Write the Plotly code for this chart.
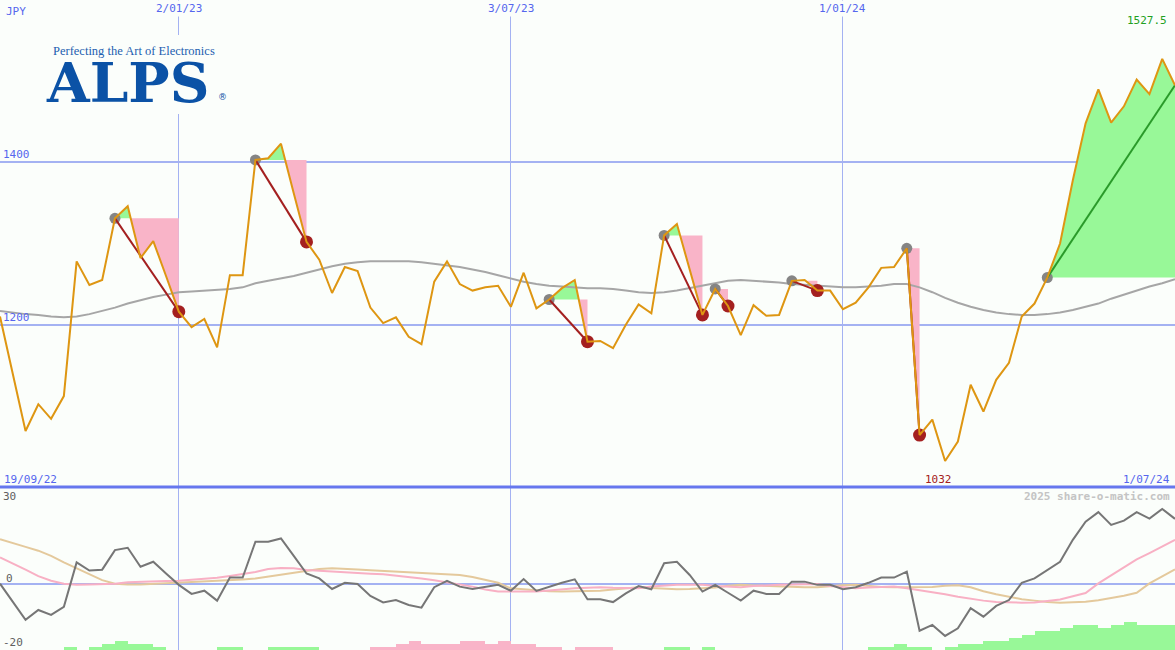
import numpy as np
import pandas as pd
import plotly.graph_objects as go

# ---------------- data ----------------
dates = pd.date_range("2022-09-26", periods=93, freq="7D")

price = [1210, 1140, 1069, 1102, 1084, 1112, 1278, 1249, 1255, 1331,
         1346, 1282, 1303, 1260, 1216, 1197, 1207, 1172, 1261, 1261,
         1403, 1405, 1423, 1362, 1302, 1280, 1239, 1271, 1266, 1221,
         1202, 1209, 1185, 1176, 1253, 1278, 1250, 1242, 1246, 1248,
         1222, 1264, 1220, 1231, 1245, 1255, 1179, 1180, 1171, 1200,
         1225, 1214, 1310, 1324, 1268, 1212, 1244, 1223, 1187, 1224,
         1211, 1212, 1254, 1255, 1242, 1242, 1219, 1227, 1246, 1270,
         1271, 1294, 1064, 1083, 1032, 1056, 1126, 1093, 1132, 1153,
         1210, 1226, 1258, 1300, 1378, 1448, 1490, 1449, 1469, 1502,
         1484, 1527.5, 1495]

ma = [1217, 1215, 1213, 1212, 1210, 1209, 1210, 1213, 1217, 1221,
      1226, 1230, 1234, 1237, 1240, 1241, 1242, 1243, 1244, 1246,
      1251, 1254, 1257, 1260, 1264, 1268, 1272, 1275, 1277, 1278,
      1278, 1278, 1278, 1277, 1275, 1273, 1271, 1268, 1265, 1261,
      1257, 1253, 1250, 1248, 1247, 1246, 1245, 1245, 1244, 1242,
      1240, 1239, 1240, 1242, 1245, 1248, 1251, 1254, 1255, 1254,
      1253, 1252, 1250, 1249, 1248, 1247, 1246, 1246, 1247, 1248,
      1250, 1250, 1246, 1240, 1233, 1227, 1222, 1218, 1215, 1213,
      1212, 1212, 1213, 1215, 1218, 1222, 1226, 1232, 1237, 1242,
      1247, 1251, 1256]

osc = [0.0, -6.0, -12.4, -9.0, -10.7, -7.9, 7.3, 4.5, 4.8, 11.5,
       12.3, 5.8, 7.5, 3.5, -0.4, -3.5, -2.4, -5.8, 2.1, 2.1,
       14.4, 14.4, 15.5, 9.5, 3.5, 1.8, -1.8, 0.3, -0.1, -4.2,
       -6.4, -5.6, -7.3, -8.2, -1.2, 1.0, -1.0, -1.8, -1.0, -0.4,
       -2.4, 1.6, -2.5, -1.0, 0.3, 1.5, -5.3, -5.3, -6.3, -3.3,
       -0.8, -1.9, 7.0, 7.5, 3.0, -2.7, -0.4, -3.1, -5.8, -2.4,
       -3.5, -3.5, 0.7, 0.7, -0.4, -0.4, -1.9, -1.2, 0.3, 2.1,
       2.1, 4.1, -16.1, -14.1, -17.9, -15.3, -8.4, -11.3, -7.6, -5.6,
       0.3, 1.8, 4.7, 7.5, 15.0, 21.2, 24.5, 20.1, 21.6, 24.5,
       22.3, 25.6, 22.2]

sig_pink = [9.0, 7.0, 4.8, 2.6, 1.0, 0.0, -0.4, -0.3, -0.2, 0.0,
            0.5, 0.7, 0.8, 0.9, 1.0, 1.3, 1.5, 2.0, 2.6, 3.3,
            4.0, 5.0, 5.4, 5.3, 4.7, 4.4, 4.1, 3.8, 3.6, 3.4,
            3.2, 2.8, 2.3, 1.8, 1.2, 0.5, -0.4, -1.0, -2.0, -2.7,
            -2.7, -2.7, -2.7, -2.3, -1.9, -1.6, -1.4, -1.2, -1.4, -1.5,
            -1.6, -1.0, -0.6, -0.4, -0.4, -0.4, -0.8, -1.1, -1.2, -0.8,
            -0.5, -0.4, -0.3, -0.2, -0.1, -0.8, -1.3, -1.6, -1.3, -1.1,
            -1.0, -1.6, -2.3, -2.8, -3.6, -4.5, -5.2, -5.8, -6.3, -6.5,
            -6.5, -6.4, -6.0, -5.4, -4.3, -3.2, 0.1, 2.8, 5.3, 8.3,
            10.5, 12.8, 15.0]

sig_tan = [15.2, 14.0, 12.6, 11.3, 9.5, 7.3, 5.3, 3.3, 1.2, 0.0,
           -0.3, -0.3, -0.1, 0.1, 0.2, 0.4, 0.6, 0.8, 1.1, 1.4,
           1.8, 2.4, 3.1, 3.8, 4.4, 5.0, 5.3, 5.2, 4.9, 4.6,
           4.4, 4.2, 4.0, 3.8, 3.5, 3.2, 3.0, 2.3, 1.3, 0.3,
           -1.6, -2.0, -2.3, -2.6, -2.7, -2.6, -2.5, -2.4, -2.0, -1.5,
           -1.2, -1.5, -1.8, -1.9, -1.8, -1.6, -1.3, -0.7, -0.4, -0.6,
           -0.8, -1.0, -1.1, -1.2, -1.2, -0.8, -0.5, -0.4, -0.8, -1.1,
           -1.2, -1.2, -1.2, -1.1, -0.7, -0.5, -1.2, -2.6, -3.6, -4.5,
           -5.3, -5.8, -6.3, -6.5, -6.4, -6.2, -5.7, -5.0, -4.1, -3.1,
           0.1, 2.5, 4.9]

hist = [0, 0, 0, 0, 0, 0, 1, 0, 1, 2,
        3, 2, 2, 1, 0, 0, 0, 0, 1, 1,
        0, 0, 1, 1, 1, 1, 0, 0, 0, 0,
        -1, -1, -2, -3, -2, -2, -2, -3, -3, -2,
        -3, -2, -2, -1, -1, 0, -1, -1, -1, 0,
        0, 0, 0, 1, 1, 0, 1, 0, 0, 0,
        0, 0, 0, 0, 0, 0, 0, 0, 0, 1,
        1, 2, 1, 1, 0, 1, 2, 2, 3, 3,
        4, 5, 6.3, 6.3, 7.2, 8.3, 8.3, 7.2, 8.3, 9.2,
        8.3, 8.3, 8.3]

entries = [9, 20, 43, 52, 56, 62, 71, 82]
exits = [14, 24, 46, 55, 57, 64, 72, None]

grid_dates = ["2023-01-02", "2023-07-03", "2024-01-01"]
grid_labels = ["2/01/23", "3/07/23", "1/01/24"]
start_label = "19/09/22"
end_label = "1/07/24"
currency = "JPY"

# ---------------- style ----------------
BG = "#fbfefb"
BLUE_TXT = "#5566ee"
GRID = "#a4b2f2"
PRICE_C = "#de9612"
MA_C = "#a6a6a6"
GREEN_F = "#98f898"
PINK_F = "#f9b4c8"
DARKRED = "#a42020"
MONO = "DejaVu Sans Mono"
H = 650.0
SPLIT = 163.0 / H  # bottom panel height fraction
BAR_UNIT = 3.0 / 2.92  # one histogram step in oscillator units
Y2_MIN = -22.7


def xdate(fi):
    return dates[0] + pd.Timedelta(days=7 * fi)


def trade_polys(a, b):
    e = price[a]
    xs, ys = [float(a)], [price[a]]
    for i in range(a, b):
        p0, p1 = price[i], price[i + 1]
        if (p0 - e) * (p1 - e) < 0:
            t = (e - p0) / (p1 - p0)
            xs.append(i + t)
            ys.append(e)
        xs.append(float(i + 1))
        ys.append(p1)
    up = [max(v, e) for v in ys]
    dn = [min(v, e) for v in ys]
    px = [xdate(v) for v in xs] + [xdate(b), xdate(a)]
    return px, up + [e, e], dn + [e, e]


fig = go.Figure()

# trade fills
for a, b in zip(entries, exits):
    bb = b if b is not None else len(price) - 1
    px, up, dn = trade_polys(a, bb)
    fig.add_trace(go.Scatter(x=px, y=up, fill="toself", fillcolor=GREEN_F,
                             line=dict(width=0), mode="lines", hoverinfo="skip"))
    fig.add_trace(go.Scatter(x=px, y=dn, fill="toself", fillcolor=PINK_F,
                             line=dict(width=0), mode="lines", hoverinfo="skip"))

# moving average
fig.add_trace(go.Scatter(x=dates, y=ma, mode="lines",
                         line=dict(color=MA_C, width=2), hoverinfo="skip"))

# entry / exit markers
fig.add_trace(go.Scatter(x=[dates[i] for i in entries], y=[price[i] for i in entries],
                         mode="markers", marker=dict(color="#858585", size=11),
                         hoverinfo="skip"))
ex_done = [b for b in exits if b is not None]
fig.add_trace(go.Scatter(x=[dates[i] for i in ex_done], y=[price[i] for i in ex_done],
                         mode="markers", marker=dict(color=DARKRED, size=13),
                         hoverinfo="skip"))

# trade lines
for a, b in zip(entries, exits):
    if b is None:
        bb, col = len(price) - 1, "#2a9a2a"
    else:
        bb, col = b, DARKRED
    fig.add_trace(go.Scatter(x=[dates[a], dates[bb]], y=[price[a], price[bb]],
                             mode="lines", line=dict(color=col, width=2),
                             hoverinfo="skip"))

# price line
fig.add_trace(go.Scatter(x=dates, y=price, mode="lines",
                         line=dict(color=PRICE_C, width=2), hoverinfo="skip"))

# ---------------- bottom panel ----------------
bar_x = [d - pd.Timedelta(days=3.5) for d in dates]
fig.add_trace(go.Bar(x=bar_x, y=[abs(v) * BAR_UNIT for v in hist], xaxis="x2", yaxis="y2",
                     base=Y2_MIN, width=7 * 24 * 3600 * 1000,
                     marker=dict(color=[GREEN_F if v > 0 else PINK_F for v in hist],
                                 line=dict(width=0)),
                     hoverinfo="skip"))
fig.add_trace(go.Scatter(x=dates, y=sig_tan, mode="lines", xaxis="x2", yaxis="y2",
                         line=dict(color="#e4c99c", width=2), hoverinfo="skip"))
fig.add_trace(go.Scatter(x=dates, y=sig_pink, mode="lines", xaxis="x2", yaxis="y2",
                         line=dict(color="#f8b0c4", width=2), hoverinfo="skip"))
fig.add_trace(go.Scatter(x=dates, y=osc, mode="lines", xaxis="x2", yaxis="y2",
                         line=dict(color="#767676", width=2), hoverinfo="skip"))

xgrid = dict(type="date", range=[dates[0], dates[-1]], showticklabels=False,
             tickvals=grid_dates, showgrid=True, gridcolor=GRID, gridwidth=1,
             zeroline=False, showline=False, ticks="", fixedrange=True)

fig.update_layout(
    width=1175, height=650,
    margin=dict(l=0, r=0, t=0, b=0, pad=0, autoexpand=False),
    paper_bgcolor=BG, plot_bgcolor=BG, showlegend=False, bargap=0,
    xaxis=dict(domain=[0, 1], anchor="y", **xgrid),
    xaxis2=dict(domain=[0, 1], anchor="y2", matches="x", **xgrid),
    yaxis=dict(domain=[SPLIT, 1], range=[1000, 1600], tickvals=[1200, 1400],
               ticklabelposition="inside top", tickfont=dict(family=MONO, size=11, color=BLUE_TXT),
               showgrid=True, gridcolor=GRID, gridwidth=2, zeroline=False, ticks="",
               showline=False, fixedrange=True),
    yaxis2=dict(domain=[0, SPLIT], range=[Y2_MIN, 33.1], tickvals=[-20, 0, 30],
                ticktext=["-20", "", "30"],
                ticklabelposition="inside", tickfont=dict(family=MONO, size=11, color="#606060"),
                showgrid=False, zeroline=True, zerolinecolor=GRID, zerolinewidth=2,
                ticks="", showline=False, fixedrange=True),
)

# separator between panels
fig.add_shape(type="line", xref="paper", yref="paper", x0=0, x1=1, y0=SPLIT, y1=SPLIT,
              line=dict(color="#6677ee", width=3))
# logo background
fig.add_shape(type="rect", xref="paper", yref="paper", x0=44 / 1175, x1=226 / 1175,
              y0=1 - 114 / H, y1=1 - 35 / H, fillcolor=BG, line=dict(width=0), layer="above")


def py(p):
    return 1 - p / H


ann = []
for d, t in zip(grid_dates, grid_labels):
    ann.append(dict(x=d, xref="x", y=1, yref="paper", yanchor="top", xanchor="center",
                    text=t, showarrow=False, bgcolor=BG, borderpad=1,
                    font=dict(family=MONO, size=11, color=BLUE_TXT)))
ann += [
    dict(x=0, xref="paper", xshift=4, y=py(12), yref="paper", xanchor="left", yanchor="middle",
         text=currency, showarrow=False, font=dict(family=MONO, size=11, color=BLUE_TXT)),
    dict(x=1, xref="paper", xshift=-6, y=py(20), yref="paper", xanchor="right", yanchor="middle",
         text=f"{max(price)}", showarrow=False, font=dict(family=MONO, size=11, color="#22a022")),
    dict(x=0, xref="paper", xshift=2, y=py(479), yref="paper", xanchor="left", yanchor="middle",
         text=start_label, showarrow=False, font=dict(family=MONO, size=11, color=BLUE_TXT)),
    dict(x=1, xref="paper", xshift=-3, y=py(479), yref="paper", xanchor="right", yanchor="middle",
         text=end_label, showarrow=False, font=dict(family=MONO, size=11, color=BLUE_TXT)),
    dict(x=dates[int(np.argmin(price))], xref="x", xshift=-7, y=py(479), yref="paper",
         xanchor="center", yanchor="middle", text=f"{min(price):g}", showarrow=False,
         font=dict(family=MONO, size=11, color=DARKRED)),
    dict(x=1, xref="paper", xshift=-3, y=py(496), yref="paper", xanchor="right", yanchor="middle",
         text="<b>2025 share-o-matic.com</b>", showarrow=False,
         font=dict(family=MONO, size=11, color="#c4c4c4")),
    dict(x=0, xref="paper", xshift=4, y=py(578), yref="paper", xanchor="left", yanchor="middle",
         text="0", showarrow=False, font=dict(family=MONO, size=11, color="#606060")),
    # logo
    dict(x=51 / 1175, xref="paper", y=py(51), yref="paper", xanchor="left", yanchor="middle",
         text="Perfecting the Art of Electronics", showarrow=False,
         font=dict(family="Liberation Serif", size=12.5, color="#1d5fb0")),
    dict(x=44 / 1175, xref="paper", y=py(82), yref="paper", xanchor="left", yanchor="middle",
         text="<b>ALPS</b>", showarrow=False,
         font=dict(family="DejaVu Serif", size=55, color="#0b52a6")),
    dict(x=216 / 1175, xref="paper", y=py(97), yref="paper", xanchor="left", yanchor="middle",
         text="®", showarrow=False,
         font=dict(family="DejaVu Sans", size=9, color="#0b52a6")),
]
fig.update_layout(annotations=ann)

fig.write_html("out.html", config={"displayModeBar": False, "staticPlot": True},
               post_script="document.body.style.margin='0';document.body.style.background='%s';" % BG)
